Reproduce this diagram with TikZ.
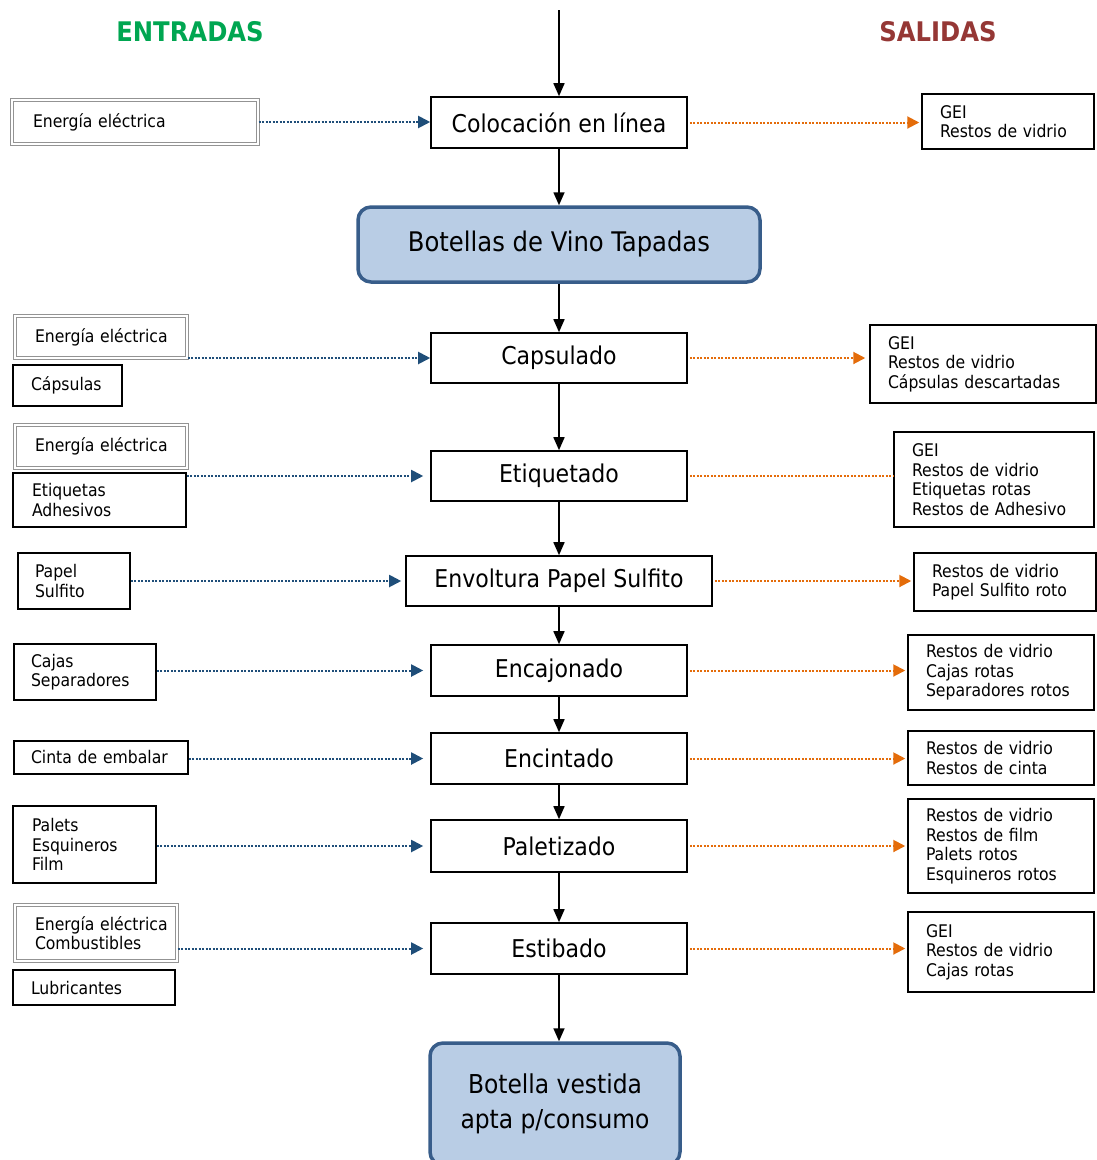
\documentclass[tikz,border=0pt]{standalone}
\usepackage{fontspec}
\setmainfont{DejaVu Sans Condensed}
\usetikzlibrary{arrows.meta}
\definecolor{inblue}{HTML}{1F4E79}
\definecolor{outor}{HTML}{E46C0A}
\definecolor{hgreen}{HTML}{00A651}
\definecolor{hred}{HTML}{953735}
\definecolor{tfill}{HTML}{B9CDE5}
\definecolor{tdraw}{HTML}{385D8A}
\newcommand\fsz[2]{\fontsize{#1}{#2}\selectfont}
\begin{document}
\begin{tikzpicture}[x=1pt,y=-1pt,
 proc/.style={draw, line width=1.6pt, minimum width=256pt, minimum height=51pt, inner sep=0pt, font=\fsz{24.5}{29}},
 term/.style={draw=tdraw, fill=tfill, line width=3.5pt, rounded corners=13pt, align=center, inner sep=0pt},
 sbox/.style={draw, line width=1.5pt, align=left, inner ysep=0pt, font=\fsz{17.4}{19.5}},
 dbox/.style={sbox, draw=gray!85, line width=1.3pt, double=white, double distance=2pt},
 flow/.style={-{Triangle[length=13pt,width=11pt]}, line width=1.6pt},
 inarr/.style={inblue, line width=2pt, dash pattern=on 2pt off 1.5pt, -{Triangle[length=12pt,width=12pt]}},
 outarr/.style={outor, line width=2pt, dash pattern=on 2pt off 1.5pt, -{Triangle[length=12pt,width=12pt]}},
 outline/.style={outor, line width=2pt, dash pattern=on 2pt off 1.5pt}
]
\useasboundingbox (0,0) rectangle (1097,1160);

% headers
\node[font=\fsz{27}{30}\bfseries, text=hgreen] (hin) at (190,32) {ENTRADAS};
\node[font=\fsz{27}{30}\bfseries, text=hred] (hout) at (938,32) {SALIDAS};

% main flow
\coordinate (top) at (559,10);
\node[proc] (P0) at (559,122.5) {Colocación en línea};
\node[term, minimum width=402pt, minimum height=75pt, font=\fsz{27}{32}] (B1) at (559,244.5) {Botellas de Vino Tapadas};
\node[proc, minimum height=50pt] (P1) at (559,358) {Capsulado};
\node[proc, minimum height=50pt] (P2) at (559,476) {Etiquetado};
\node[proc, minimum width=306pt, minimum height=50pt] (P3) at (559,581) {Envoltura Papel Sulfito};
\node[proc] (P4) at (559,670.5) {Encajonado};
\node[proc] (P5) at (559,758.5) {Encintado};
\node[proc, minimum height=52pt] (P6) at (559,846) {Paletizado};
\node[proc] (P7) at (559,948.5) {Estibado};
\node[term, minimum width=250pt, minimum height=122pt, font=\fsz{26}{35}] (B2) at (555,1104) {Botella vestida\\apta p/consumo};

\draw[flow] (top) -- (P0.north);
\draw[flow] (P0.south) -- (B1.north);
\draw[flow] (B1.south) -- (P1.north);
\draw[flow] (P1.south) -- (P2.north);
\draw[flow] (P2.south) -- (P3.north);
\draw[flow] (P3.south) -- (P4.north);
\draw[flow] (P4.south) -- (P5.north);
\draw[flow] (P5.south) -- (P6.north);
\draw[flow] (P6.south) -- (P7.north);
\draw[flow] (P7.south) -- (P7.south |- B2.north);

% inputs
\node[dbox, minimum width=246pt, minimum height=44pt, inner xsep=21pt, text width=204pt] (I1) at (135,122) {Energía~eléctrica};
\node[dbox, minimum width=172pt, minimum height=42pt, inner xsep=20pt, text width=132pt] (I2a) at (101,337) {\mbox{Energía eléctrica}};
\node[sbox, minimum width=109pt, minimum height=41pt, inner xsep=18pt, text width=73pt] (I2b) at (67.5,385.5) {Cápsulas};
\node[dbox, minimum width=172pt, minimum height=43pt, inner xsep=20pt, text width=132pt] (I3a) at (101,446.5) {\mbox{Energía eléctrica}};
\node[sbox, minimum width=173pt, minimum height=54pt, inner xsep=19pt, text width=135pt] (I3b) at (99.5,500) {Etiquetas\\Adhesivos};
\node[sbox, minimum width=112pt, minimum height=56pt, inner xsep=17pt, text width=78pt] (I4) at (74,581) {Papel\\Sulfito};
\node[sbox, minimum width=142pt, minimum height=56pt, inner xsep=17pt, text width=108pt] (I5) at (85,672) {Cajas\\Separadores};
\node[sbox, minimum width=174pt, minimum height=33pt, inner xsep=17pt, text width=140pt] (I6) at (101,757.5) {Cinta~de~embalar};
\node[sbox, minimum width=143pt, minimum height=77pt, inner xsep=19pt, text width=105pt] (I7) at (84.5,844.5) {Palets\\Esquineros\\Film};
\node[dbox, minimum width=162pt, minimum height=56pt, inner xsep=20pt, text width=122pt] (I8a) at (96,933) {\mbox{Energía eléctrica}\\Combustibles};
\node[sbox, minimum width=162pt, minimum height=35pt, inner xsep=18pt, text width=126pt] (I8b) at (94,987.5) {Lubricantes};

\draw[inarr] (I1.east) -- (I1.east -| P0.west);
\draw[inarr] (I2a.east |- P1.west) -- (P1.west);
\draw[inarr, shorten >=7pt] (I3b.east |- P2.west) -- (P2.west);
\draw[inarr, shorten >=4pt] (I4.east |- P3.west) -- (P3.west);
\draw[inarr, shorten >=7pt] (I5.east |- P4.west) -- (P4.west);
\draw[inarr, shorten >=7pt] (I6.east |- P5.west) -- (P5.west);
\draw[inarr, shorten >=7pt] (I7.east |- P6.west) -- (P6.west);
\draw[inarr, shorten >=7pt] (I8a.east |- P7.west) -- (P7.west);

% outputs
\node[sbox, minimum width=172pt, minimum height=55pt, inner xsep=18pt, text width=136pt] (O1) at (1008,121.5) {GEI\\\mbox{Restos de vidrio}};
\node[sbox, minimum width=226pt, minimum height=78pt, inner xsep=18pt, text width=190pt] (O2) at (983,364) {GEI\\Restos~de~vidrio\\Cápsulas~descartadas};
\node[sbox, minimum width=200pt, minimum height=95pt, inner xsep=18pt, text width=164pt] (O3) at (994,479.5) {GEI\\Restos~de~vidrio\\Etiquetas~rotas\\Restos~de~Adhesivo};
\node[sbox, minimum width=182pt, minimum height=58pt, inner xsep=18pt, text width=146pt] (O4) at (1005,582) {Restos~de~vidrio\\Papel~Sulfito~roto};
\node[sbox, minimum width=186pt, minimum height=75pt, inner xsep=18pt, text width=150pt] (O5) at (1001,672.5) {Restos~de~vidrio\\Cajas~rotas\\Separadores~rotos};
\node[sbox, minimum width=186pt, minimum height=54pt, inner xsep=18pt, text width=150pt] (O6) at (1001,758) {Restos~de~vidrio\\Restos~de~cinta};
\node[sbox, minimum width=186pt, minimum height=94pt, inner xsep=18pt, text width=150pt] (O7) at (1001,846) {Restos~de~vidrio\\Restos~de~film\\Palets~rotos\\Esquineros~rotos};
\node[sbox, minimum width=186pt, minimum height=80pt, inner xsep=18pt, text width=150pt] (O8) at (1001,952) {GEI\\Restos~de~vidrio\\Cajas~rotas};

\draw[outarr, shorten <=2pt, shorten >=2pt] (P0.east) -- (P0.east -| O1.west);
\draw[outarr, shorten <=2pt, shorten >=4pt] (P1.east) -- (P1.east -| O2.west);
\draw[outline, shorten <=2pt] (P2.east) -- (P2.east -| O3.west);
\draw[outarr, shorten <=2pt, shorten >=2pt] (P3.east) -- (P3.east -| O4.west);
\draw[outarr, shorten <=2pt, shorten >=2pt] (P4.east) -- (P4.east -| O5.west);
\draw[outarr, shorten <=2pt, shorten >=2pt] (P5.east) -- (P5.east -| O6.west);
\draw[outarr, shorten <=2pt, shorten >=2pt] (P6.east) -- (P6.east -| O7.west);
\draw[outarr, shorten <=2pt, shorten >=2pt] (P7.east) -- (P7.east -| O8.west);
\end{tikzpicture}
\end{document}
